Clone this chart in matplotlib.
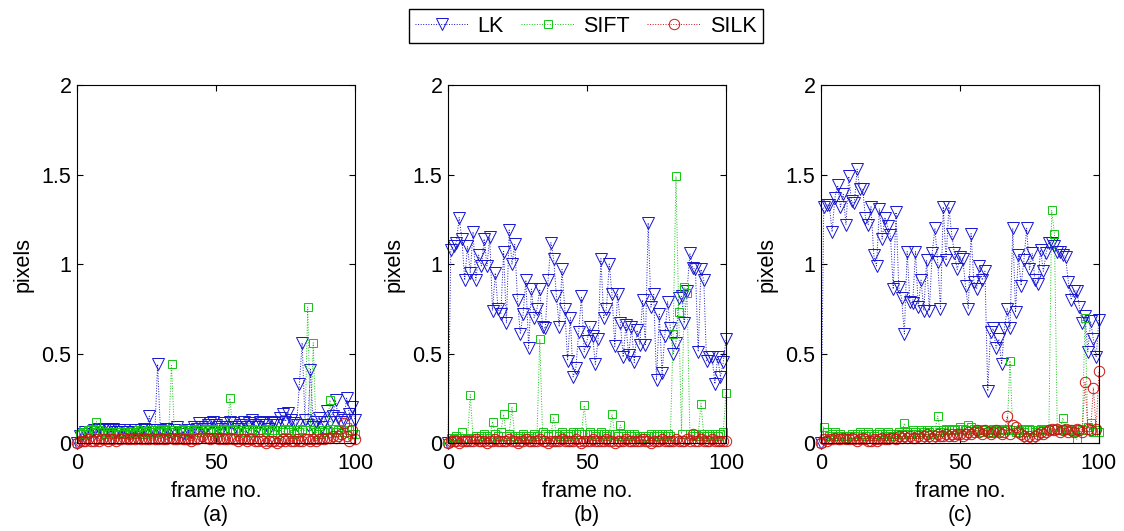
import matplotlib
matplotlib.use("Agg")
import matplotlib.pyplot as plt

plt.rcParams['font.family'] = ['Liberation Sans', 'DejaVu Sans']

# frame numbers
frames = list(range(101))

# (a)
a_lk = [0.00, 0.04, 0.05, 0.06, 0.05, 0.06, 0.07, 0.06, 0.08, 0.07,
        0.08, 0.08, 0.07, 0.08, 0.06, 0.07, 0.06, 0.07, 0.06, 0.05,
        0.06, 0.07, 0.06, 0.07, 0.08, 0.07, 0.15, 0.07, 0.06, 0.44,
        0.07, 0.06, 0.08, 0.06, 0.05, 0.07, 0.09, 0.06, 0.05, 0.06,
        0.07, 0.06, 0.09, 0.08, 0.11, 0.09, 0.08, 0.10, 0.11, 0.12,
        0.10, 0.09, 0.08, 0.11, 0.09, 0.12, 0.11, 0.09, 0.08, 0.10,
        0.12, 0.09, 0.11, 0.13, 0.10, 0.09, 0.12, 0.11, 0.10, 0.08,
        0.12, 0.11, 0.10, 0.14, 0.16, 0.12, 0.17, 0.13, 0.11, 0.10,
        0.33, 0.56, 0.13, 0.10, 0.41, 0.09, 0.12, 0.14, 0.09, 0.12,
        0.18, 0.12, 0.15, 0.24, 0.14, 0.12, 0.13, 0.25, 0.16, 0.20,
        0.13]
a_sift = [0.00, 0.05, 0.06, 0.05, 0.07, 0.08, 0.06, 0.12, 0.07, 0.06,
          0.05, 0.06, 0.05, 0.06, 0.05, 0.06, 0.05, 0.06, 0.05, 0.06,
          0.06, 0.05, 0.07, 0.06, 0.05, 0.06, 0.07, 0.06, 0.07, 0.06,
          0.07, 0.08, 0.07, 0.06, 0.44, 0.07, 0.06, 0.07, 0.08, 0.07,
          0.06, 0.07, 0.08, 0.07, 0.06, 0.07, 0.08, 0.07, 0.06, 0.08,
          0.07, 0.06, 0.07, 0.08, 0.07, 0.25, 0.08, 0.07, 0.06, 0.07,
          0.06, 0.07, 0.06, 0.08, 0.07, 0.06, 0.07, 0.06, 0.08, 0.07,
          0.06, 0.07, 0.05, 0.07, 0.06, 0.08, 0.07, 0.06, 0.05, 0.07,
          0.06, 0.08, 0.07, 0.76, 0.07, 0.56, 0.06, 0.05, 0.07, 0.06,
          0.07, 0.24, 0.08, 0.06, 0.07, 0.08, 0.06, 0.09, 0.07, 0.05,
          0.05]
a_silk = [0.00, 0.01, 0.01, 0.01, 0.02, 0.01, 0.01, 0.02, 0.01, 0.02,
          0.02, 0.01, 0.02, 0.02, 0.01, 0.02, 0.02, 0.03, 0.02, 0.02,
          0.03, 0.02, 0.03, 0.02, 0.03, 0.02, 0.02, 0.03, 0.02, 0.02,
          0.03, 0.02, 0.02, 0.03, 0.03, 0.02, 0.02, 0.03, 0.02, 0.02,
          0.02, 0.01, 0.02, 0.02, 0.03, 0.04, 0.03, 0.03, 0.02, 0.03,
          0.03, 0.02, 0.03, 0.02, 0.02, 0.03, 0.02, 0.02, 0.01, 0.02,
          0.02, 0.01, 0.02, 0.02, 0.01, 0.01, 0.02, 0.01, 0.00, 0.01,
          0.01, 0.01, 0.00, 0.01, 0.02, 0.01, 0.02, 0.01, 0.01, 0.02,
          0.01, 0.01, 0.02, 0.02, 0.01, 0.02, 0.01, 0.02, 0.03, 0.02,
          0.03, 0.03, 0.04, 0.03, 0.04, 0.05, 0.11, 0.04, 0.01, 0.07,
          0.02]

# (b)
b_lk = [0.00, 1.08, 1.10, 1.12, 1.26, 1.14, 0.91, 1.10, 0.95, 1.18,
        0.91, 1.05, 0.99, 1.14, 0.99, 1.15, 0.74, 0.95, 0.75, 0.72,
        1.07, 0.67, 1.19, 1.00, 1.11, 0.80, 0.61, 0.72, 0.91, 0.53,
        0.86, 0.70, 0.75, 0.86, 0.65, 0.64, 0.91, 1.12, 1.03, 0.82,
        0.65, 0.97, 0.75, 0.46, 0.70, 0.37, 0.42, 0.62, 0.82, 0.51,
        0.57, 0.65, 0.60, 0.44, 0.58, 1.03, 0.70, 0.75, 1.00, 0.83,
        0.54, 0.83, 0.67, 0.48, 0.66, 0.49, 0.65, 0.45, 0.63, 0.55,
        0.80, 0.55, 1.23, 0.76, 0.83, 0.35, 0.72, 0.39, 0.60, 0.79,
        0.64, 0.50, 0.56, 0.81, 0.82, 0.67, 0.85, 1.06, 0.98, 0.97,
        0.51, 0.97, 0.91, 0.46, 0.48, 0.48, 0.33, 0.48, 0.37, 0.45,
        0.58]
b_sift = [0.00, 0.03, 0.02, 0.04, 0.03, 0.06, 0.03, 0.02, 0.27, 0.03,
          0.04, 0.03, 0.04, 0.05, 0.04, 0.03, 0.12, 0.05, 0.04, 0.06,
          0.16, 0.04, 0.05, 0.20, 0.04, 0.03, 0.04, 0.05, 0.04, 0.03,
          0.04, 0.05, 0.04, 0.58, 0.06, 0.05, 0.04, 0.05, 0.14, 0.05,
          0.04, 0.06, 0.05, 0.04, 0.05, 0.06, 0.05, 0.06, 0.05, 0.21,
          0.05, 0.06, 0.05, 0.04, 0.05, 0.06, 0.05, 0.04, 0.05, 0.16,
          0.05, 0.04, 0.10, 0.05, 0.04, 0.05, 0.04, 0.05, 0.04, 0.03,
          0.04, 0.03, 0.04, 0.05, 0.04, 0.05, 0.04, 0.05, 0.04, 0.05,
          0.04, 0.61, 1.49, 0.73, 0.05, 0.87, 0.84, 0.05, 0.04, 0.05,
          0.04, 0.22, 0.05, 0.04, 0.05, 0.04, 0.05, 0.04, 0.05, 0.06,
          0.28]
b_silk = [0.00, 0.01, 0.01, 0.01, 0.00, 0.01, 0.01, 0.01, 0.01, 0.01,
          0.02, 0.01, 0.01, 0.01, 0.00, 0.01, 0.01, 0.02, 0.01, 0.01,
          0.01, 0.01, 0.02, 0.01, 0.01, 0.00, 0.01, 0.01, 0.02, 0.01,
          0.01, 0.01, 0.01, 0.02, 0.01, 0.01, 0.00, 0.01, 0.01, 0.01,
          0.01, 0.02, 0.01, 0.01, 0.01, 0.01, 0.02, 0.01, 0.00, 0.01,
          0.01, 0.01, 0.02, 0.01, 0.01, 0.01, 0.01, 0.02, 0.01, 0.01,
          0.00, 0.01, 0.01, 0.01, 0.02, 0.01, 0.01, 0.01, 0.01, 0.01,
          0.02, 0.01, 0.01, 0.00, 0.01, 0.01, 0.01, 0.02, 0.01, 0.01,
          0.01, 0.01, 0.02, 0.01, 0.01, 0.01, 0.02, 0.01, 0.05, 0.01,
          0.01, 0.02, 0.01, 0.01, 0.01, 0.02, 0.01, 0.01, 0.01, 0.01,
          0.01]

# (c)
c_lk = [0.00, 1.32, 1.33, 1.33, 1.18, 1.37, 1.44, 1.32, 1.39, 1.22,
        1.49, 1.35, 1.34, 1.53, 1.42, 1.42, 1.26, 1.22, 1.32, 1.05,
        0.99, 1.31, 1.14, 1.26, 1.21, 1.16, 0.86, 1.29, 0.87, 0.81,
        0.61, 1.07, 0.79, 0.78, 1.07, 0.76, 0.91, 0.74, 1.02, 0.74,
        1.06, 1.20, 1.01, 0.75, 1.32, 1.02, 1.32, 1.17, 1.06, 0.97,
        1.04, 1.03, 0.88, 0.75, 1.17, 0.90, 0.86, 0.99, 0.91, 0.96,
        0.29, 0.62, 0.64, 0.53, 0.58, 0.44, 0.64, 0.75, 0.64, 1.20,
        0.73, 1.05, 0.88, 1.02, 1.20, 0.97, 1.06, 0.91, 0.89, 1.08,
        0.96, 1.06, 1.12, 1.12, 1.10, 1.07, 1.07, 1.05, 1.04, 0.90,
        0.80, 0.85, 0.85, 0.76, 0.67, 0.71, 0.51, 0.68, 0.58, 0.48,
        0.69]
c_sift = [0.00, 0.09, 0.06, 0.04, 0.05, 0.06, 0.04, 0.05, 0.04, 0.03,
          0.04, 0.05, 0.04, 0.05, 0.06, 0.05, 0.04, 0.06, 0.05, 0.04,
          0.05, 0.06, 0.05, 0.04, 0.06, 0.05, 0.04, 0.05, 0.06, 0.05,
          0.11, 0.06, 0.05, 0.07, 0.06, 0.05, 0.07, 0.06, 0.07, 0.06,
          0.05, 0.07, 0.15, 0.06, 0.07, 0.08, 0.07, 0.08, 0.07, 0.08,
          0.09, 0.08, 0.07, 0.10, 0.09, 0.08, 0.07, 0.06, 0.08, 0.07,
          0.06, 0.07, 0.08, 0.06, 0.07, 0.08, 0.07, 0.08, 0.46, 0.07,
          0.06, 0.07, 0.08, 0.06, 0.07, 0.08, 0.07, 0.06, 0.07, 0.08,
          0.07, 0.08, 0.07, 1.30, 1.17, 0.08, 0.07, 0.14, 0.08, 0.07,
          0.08, 0.06, 0.02, 0.08, 0.07, 0.70, 0.09, 0.11, 0.06, 0.07,
          0.06]
c_silk = [0.00, 0.02, 0.01, 0.02, 0.02, 0.03, 0.02, 0.02, 0.03, 0.02,
          0.02, 0.03, 0.02, 0.01, 0.02, 0.03, 0.02, 0.01, 0.01, 0.02,
          0.01, 0.02, 0.03, 0.02, 0.02, 0.03, 0.03, 0.02, 0.04, 0.03,
          0.04, 0.03, 0.04, 0.03, 0.03, 0.04, 0.03, 0.04, 0.05, 0.04,
          0.03, 0.04, 0.05, 0.04, 0.04, 0.05, 0.04, 0.05, 0.04, 0.05,
          0.05, 0.04, 0.05, 0.06, 0.05, 0.06, 0.07, 0.06, 0.05, 0.07,
          0.06, 0.05, 0.06, 0.07, 0.06, 0.05, 0.06, 0.15, 0.05, 0.10,
          0.09, 0.06, 0.05, 0.04, 0.03, 0.04, 0.03, 0.04, 0.05, 0.06,
          0.05, 0.06, 0.07, 0.08, 0.07, 0.08, 0.06, 0.07, 0.08, 0.06,
          0.07, 0.06, 0.08, 0.07, 0.06, 0.34, 0.08, 0.07, 0.31, 0.08,
          0.40]

panel_labels = ['(a)', '(b)', '(c)']
series_names = ['LK', 'SIFT', 'SILK']
panels = [(a_lk, a_sift, a_silk), (b_lk, b_sift, b_silk), (c_lk, c_sift, c_silk)]

styles = [dict(color='#1414d0', marker='v', markersize=8.5),
          dict(color='#14c414', marker='s', markersize=5.5),
          dict(color='#cc1414', marker='o', markersize=7.5)]

fig = plt.figure(figsize=(11.24, 5.31), dpi=100)
lefts = [0.0685, 0.3986, 0.7304]
handles = []
for i, (left, data) in enumerate(zip(lefts, panels)):
    ax = fig.add_axes([left, 0.1657, 0.2473, 0.674])
    for vals, st in zip(data, styles):
        h, = ax.plot(frames, vals, linestyle=':', linewidth=0.7,
                     color=st['color'], marker=st['marker'],
                     markersize=st['markersize'], markerfacecolor='none',
                     markeredgecolor=st['color'], markeredgewidth=0.7,
                     clip_on=False)
        if i == 0:
            handles.append(h)
    ax.set_xlim(0, 100)
    ax.set_ylim(0, 2)
    ax.set_xticks([0, 50, 100])
    ax.set_yticks([0, 0.5, 1, 1.5, 2])
    ax.set_yticklabels(['0', '0.5', '1', '1.5', '2'])
    ax.tick_params(direction='in', length=4, width=0.8, labelsize=15.5,
                   top=True, right=True, pad=4)
    ax.tick_params(axis='x', pad=7)
    for sp in ax.spines.values():
        sp.set_linewidth(0.8)
    ax.set_xlabel('frame no.\n' + panel_labels[i], fontsize=15.5,
                  linespacing=1.2, labelpad=5)
    ax.set_ylabel('pixels', fontsize=15.5, labelpad=6)

fig.legend(handles, series_names, loc='center', bbox_to_anchor=(0.521, 0.951),
           ncol=3, fontsize=15.5, frameon=True, fancybox=False,
           edgecolor='black', framealpha=1, handlelength=2.5,
           columnspacing=0.8, handletextpad=0.4, borderpad=0.3)

fig.savefig('out.png', dpi=100)
